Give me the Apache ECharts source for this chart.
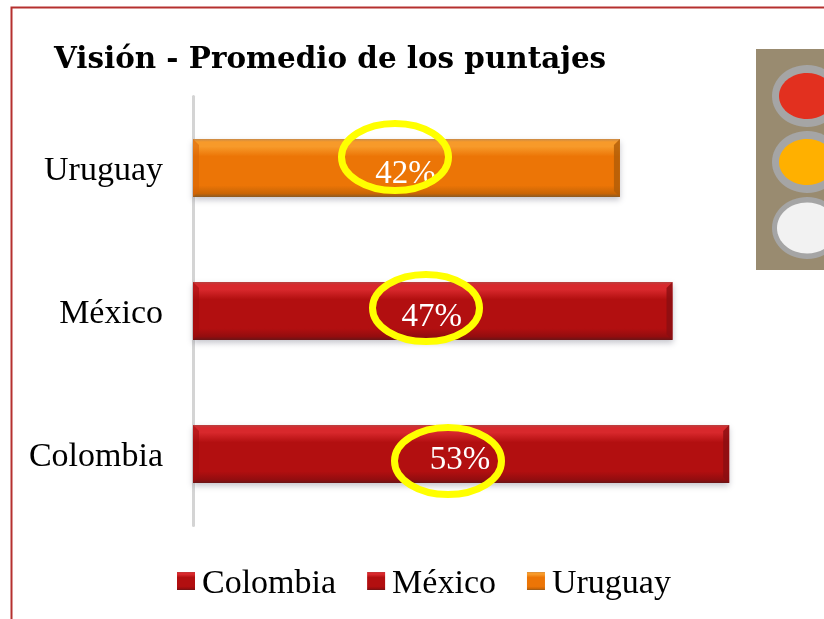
<!DOCTYPE html>
<html><head><meta charset="utf-8">
<style>html,body{margin:0;padding:0;background:#fff}#c{width:824px;height:619px}</style>
<script src="https://cdn.jsdelivr.net/npm/echarts@6/dist/echarts.min.js"></script>
</head><body><div id="c"></div>
<script>
const titleText = 'Visión - Promedio de los puntajes';
const categories = ['Colombia', 'México', 'Uruguay'];
const colombia = [53, null, null];
const mexico = [null, 47.4, null];
const uruguay = [null, null, 42.2];
const totals = [53, 47.4, 42.2];
const labels = ['53%', '47%', '42%'];
const serif = '"Liberation Serif", "DejaVu Serif", serif';

function grad(top, hi, mid, low, bot) {
  return new echarts.graphic.LinearGradient(0, 0, 0, 1, [
    {offset: 0, color: top}, {offset: 0.05, color: hi}, {offset: 0.13, color: hi}, {offset: 0.3, color: mid},
    {offset: 0.8, color: mid}, {offset: 0.94, color: low}, {offset: 1, color: bot}
  ]);
}
const red = grad('#b8403f', '#d8282c', '#b20f10', '#930d0f', '#6a1416');
const orange = grad('#c98a48', '#f79a2a', '#ec7506', '#c96505', '#8a5a24');
const edgeDark = ['#8a0e11', '#8a0e11', '#b05c08'];
const edgeLeft = ['#a00c0f', '#a00c0f', '#d96408'];

function barSeries(name, data, color, idx) {
  return {
    name, type: 'bar', stack: 'all', data, barWidth: 58,
    itemStyle: {color, shadowColor: 'rgba(90,90,110,0.35)', shadowBlur: 6, shadowOffsetY: 3},
    label: {
      show: true, position: 'inside', offset: [-1, 6], color: '#fff',
      fontFamily: serif, fontSize: 33,
      formatter: () => labels[idx]
    },
    z: 2
  };
}
const bevelSeries = {
  type: 'custom', name: 'bevel', silent: true, z: 3, encode: {x: 0, y: 1},
  data: totals.map((v, i) => [v, i]),
  renderItem(params, api) {
    const i = api.value(1);
    const end = api.coord([api.value(0), i]);
    const start = api.coord([0, i]);
    const h = 29, b = 6;
    const t = end[1] - h, u = end[1] + h;
    return {type: 'group', children: [
      {type: 'polygon', shape: {points: [[end[0], t], [end[0], u], [end[0] - b, u - b], [end[0] - b, t + b]]},
        style: {fill: edgeDark[i], opacity: 0.8}},
      {type: 'polygon', shape: {points: [[start[0], t], [start[0], u], [start[0] + b, u - b], [start[0] + b, t + b]]},
        style: {fill: edgeLeft[i], opacity: 0.55}}
    ]};
  }
};
function ring(cx, cy) {
  return {type: 'ellipse', z: 50, shape: {cx, cy, rx: 53.5, ry: 33.5},
    style: {fill: 'none', stroke: '#ffff00', lineWidth: 7}};
}
function lamp(cy, fill, rx, ry) {
  return [
    {type: 'ellipse', z: 2, shape: {cx: 807, cy, rx: 35, ry: 31}, style: {fill: '#a5a5a5'}},
    {type: 'ellipse', z: 3, shape: {cx: 807, cy, rx, ry}, style: {fill}}
  ];
}
const chart = echarts.init(document.getElementById('c'), null, {renderer: 'canvas'});
chart.setOption({
  animation: false,
  backgroundColor: '#fff',
  title: {text: titleText, left: 49, top: 41,
    textStyle: {fontFamily: '"DejaVu Serif", serif', fontWeight: 'bold', fontSize: 29.4, color: '#000'}},
  grid: {left: 193, top: 96.5, width: 607, height: 429},
  xAxis: {type: 'value', min: 0, max: 60, show: false},
  yAxis: {type: 'category', data: categories,
    axisLine: {show: true, lineStyle: {color: '#d4d4d4', width: 3}},
    axisTick: {show: false},
    axisLabel: {margin: 30, color: '#000', fontFamily: serif, fontSize: 34,
      formatter: '{a|{value}}',
      rich: {a: {fontFamily: serif, fontSize: 34, color: '#000', padding: [6, 0, 0, 0]}}}},
  legend: {left: 172, top: 562, itemWidth: 18, itemHeight: 18, itemGap: 31, icon: 'rect',
    formatter: '{a|{name}}',
    textStyle: {fontFamily: serif, fontSize: 34, color: '#000',
      rich: {a: {fontFamily: serif, fontSize: 34, color: '#000', padding: [6, 0, 0, 2]}}},
    data: categories},
  series: [
    barSeries('Colombia', colombia, red, 0),
    barSeries('México', mexico, red, 1),
    barSeries('Uruguay', uruguay, orange, 2),
    bevelSeries
  ],
  graphic: [
    {type: 'rect', z: 1, shape: {x: 11.5, y: 7.5, width: 900, height: 800},
      style: {fill: 'none', stroke: '#b5302f', lineWidth: 2}},
    {type: 'rect', z: 1, shape: {x: 756, y: 49, width: 68, height: 221}, style: {fill: '#998b70'}},
    ...lamp(96, '#e2301f', 28, 23),
    ...lamp(162, '#ffb000', 28, 23),
    ...lamp(228, '#f2f2f2', 30, 25.5),
    ring(395, 157), ring(426, 308), ring(448, 461)
  ]
});
</script></body></html>
